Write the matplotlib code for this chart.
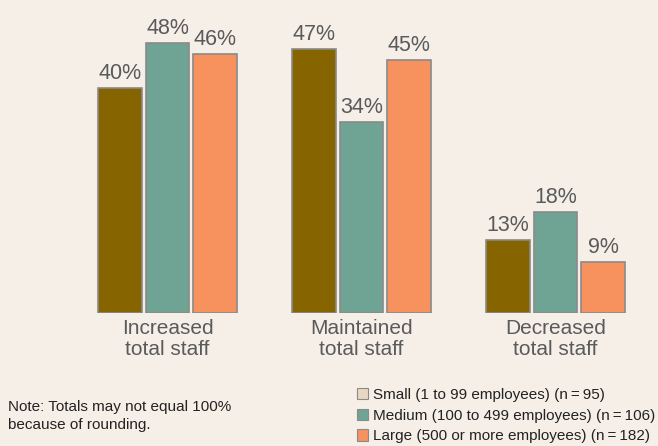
import matplotlib
matplotlib.use('Agg')
from matplotlib import pyplot as plt
from matplotlib.patches import Patch
import numpy as np

plt.rcParams['font.family'] = ['Liberation Sans', 'DejaVu Sans']

categories = ['Increased\ntotal staff', 'Maintained\ntotal staff', 'Decreased\ntotal staff']
small = [40, 47, 13]
medium = [48, 34, 18]
large = [46, 45, 9]
series_labels = ['Small (1 to 99 employees) (n\u2009=\u200995)',
                 'Medium (100 to 499 employees) (n\u2009=\u2009106)',
                 'Large (500 or more employees) (n\u2009=\u2009182)']

bg = '#f5efe8'
bar_colors = ['#866400', '#6fa494', '#f7915d']
legend_colors = ['#e8d8bf', '#6fa494', '#f7915d']
text_gray = '#5a5a5a'

fig = plt.figure(figsize=(6.58, 4.46), dpi=100, facecolor=bg)
ax = fig.add_axes([0, 133 / 446, 1, 293 / 446])
ax.set_facecolor(bg)

x = np.arange(len(categories))
step = 0.246
width = 0.224
for i, (vals, col) in enumerate(zip([small, medium, large], bar_colors)):
    pos = x + (i - 1) * step
    bars = ax.bar(pos, vals, width, color=col, edgecolor='#8a8a8a', linewidth=1.2)
    for b, v in zip(bars, vals):
        ax.annotate(f'{v}%', (b.get_x() + b.get_width() / 2, v),
                    xytext=(0, 6.5), textcoords='offset points',
                    ha='center', va='baseline', fontsize=15.5, color=text_gray)

ax.set_xlim(-167.5 / 194, 490.5 / 194)
ax.set_ylim(0, 293 / 5.625)
ax.axis('off')

for xi, cat in zip(x, categories):
    ax.text(xi, -1.0, cat, ha='center', va='top', fontsize=15,
            color=text_gray, linespacing=1.15)

fig.text(8 / 658, 1 - 416 / 446, 'Note: Totals may not equal 100%\nbecause of rounding.',
         ha='left', va='center', fontsize=11, color='#222222', linespacing=1.45)

handles = [Patch(facecolor=c, edgecolor='#8a8a8a', linewidth=0.8) for c in legend_colors]
fig.legend(handles, series_labels, loc='upper left',
           bbox_to_anchor=(349 / 658, 1 - 380 / 446), frameon=False,
           fontsize=11, handlelength=0.75, handleheight=0.75, handletextpad=0.3,
           labelspacing=0.45, borderpad=0, labelcolor='#222222')

fig.savefig('out.png', dpi=100, facecolor=bg)
